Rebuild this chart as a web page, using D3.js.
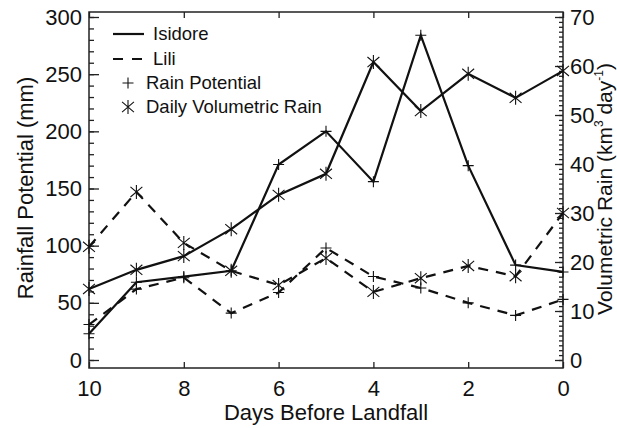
<!DOCTYPE html>
<html>
<head>
<meta charset="utf-8">
<script src="https://cdn.jsdelivr.net/npm/d3@7"></script>
<style>
  body { margin: 0; background: #fff; }
  text { font-family: "Liberation Sans", Arial, sans-serif; fill: #111; }
</style>
</head>
<body>
<svg id="chart"></svg>
<script>
// days before landfall
const days = [10, 9, 8, 7, 6, 5, 4, 3, 2, 1, 0];
// rain potential (mm), left axis
const isidoreRainPotential = [23, 68, 73, 78, 171, 200, 156, 284, 170, 83, 77];
const liliRainPotential = [31, 62, 72, 41, 59, 98, 73, 63, 50, 39, 53];
// daily volumetric rain (km3 / day), right axis
const isidoreVolumetric = [14.5, 18.4, 21.2, 26.7, 33.7, 38, 60.8, 50.8, 58.4, 53.5, 59];
const liliVolumetric = [23.1, 34.3, 23.9, 18.2, 15.3, 20.8, 13.9, 16.7, 19.2, 17.1, 30];

const xTicks = [10, 8, 6, 4, 2, 0];
const leftTicks = [0, 50, 100, 150, 200, 250, 300];
const rightTicks = [0, 10, 20, 30, 40, 50, 60, 70];
const legendLabels = ["Isidore", "Lili", "Rain Potential", "Daily Volumetric Rain"];

var width = 617, height = 428;
var frame = { left: 89, right: 563, top: 12, bottom: 368 };

var svg = d3.select("#chart").attr("width", width).attr("height", height);

var x = d3.scaleLinear().domain([10, 0]).range([frame.left, frame.right]);
var yL = d3.scaleLinear().domain([0, 300]).range([360, 17]);
var yR = d3.scaleLinear().domain([0, 70]).range([360, 17]);

const fs = 22;

// frame
svg.append("rect")
  .attr("x", frame.left).attr("y", frame.top)
  .attr("width", frame.right - frame.left)
  .attr("height", frame.bottom - frame.top)
  .attr("fill", "none").attr("stroke", "#222").attr("stroke-width", 1.5);

function styleAxis(g) {
  g.select(".domain").remove();
  g.selectAll("line").attr("stroke", "#222").attr("stroke-width", 1.3);
  g.selectAll("text").attr("font-size", fs).attr("fill", "#111")
    .style("font-family", "'Liberation Sans', Arial, sans-serif");
}

// left axis
svg.append("g").attr("transform", `translate(${frame.left},0)`)
  .call(d3.axisLeft(yL).tickValues(d3.range(0, 301, 10)).tickSize(-5).tickFormat(""))
  .call(styleAxis);
svg.append("g").attr("transform", `translate(${frame.left},0)`)
  .call(d3.axisLeft(yL).tickValues(leftTicks).tickSize(-10).tickPadding(7))
  .call(styleAxis);

// right axis
svg.append("g").attr("transform", `translate(${frame.right},0)`)
  .call(d3.axisRight(yR).tickValues(d3.range(0, 71, 1)).tickSize(-4).tickFormat(""))
  .call(styleAxis);
svg.append("g").attr("transform", `translate(${frame.right},0)`)
  .call(d3.axisRight(yR).tickValues(rightTicks).tickSize(-8).tickPadding(7))
  .call(styleAxis);

// bottom / top axis
svg.append("g").attr("transform", `translate(0,${frame.bottom})`)
  .call(d3.axisBottom(x).tickValues(xTicks).tickSize(-6).tickPadding(12))
  .call(styleAxis);
svg.append("g").attr("transform", `translate(0,${frame.top})`)
  .call(d3.axisTop(x).tickValues(xTicks).tickSize(-6).tickFormat(""))
  .call(styleAxis);

// axis titles
svg.append("text")
  .attr("x", (frame.left + frame.right) / 2).attr("y", 420)
  .attr("text-anchor", "middle").attr("font-size", fs)
  .text("Days Before Landfall");

svg.append("text")
  .attr("transform", "translate(33,188) rotate(-90)")
  .attr("text-anchor", "middle").attr("font-size", fs)
  .text("Rainfall Potential (mm)");

var rt = svg.append("text")
  .attr("transform", "translate(612,189) rotate(-90)")
  .attr("text-anchor", "middle").attr("font-size", 21);
rt.append("tspan").text("Volumetric Rain (km");
rt.append("tspan").attr("font-size", 12).attr("dy", -9).text("3");
rt.append("tspan").attr("dy", 9).text(" day");
rt.append("tspan").attr("font-size", 12).attr("dy", -9).text("-1");
rt.append("tspan").attr("dy", 9).text(")");

// series
var series = [
  { vals: isidoreRainPotential, y: yL, dash: null, marker: "plus" },
  { vals: isidoreVolumetric, y: yR, dash: null, marker: "star" },
  { vals: liliRainPotential, y: yL, dash: "10,8", marker: "plus" },
  { vals: liliVolumetric, y: yR, dash: "10,8", marker: "star" }
];

function drawMarker(g, kind, cx, cy) {
  var p = d3.path();
  if (kind === "plus") {
    var s = 5.5;
    p.moveTo(cx - s, cy); p.lineTo(cx + s, cy);
    p.moveTo(cx, cy - s); p.lineTo(cx, cy + s);
  } else {
    var r = 7;
    p.moveTo(cx, cy - r); p.lineTo(cx, cy + r);
    var a = r * 0.85;
    p.moveTo(cx - a, cy - a * 0.85); p.lineTo(cx + a, cy + a * 0.85);
    p.moveTo(cx - a, cy + a * 0.85); p.lineTo(cx + a, cy - a * 0.85);
  }
  g.append("path").attr("d", p.toString())
    .attr("stroke", "#111").attr("stroke-width", 1.1).attr("fill", "none");
}

series.forEach(function (s) {
  var line = d3.line()
    .x(function (d, i) { return x(days[i]); })
    .y(function (d) { return s.y(d); });
  svg.append("path")
    .datum(s.vals)
    .attr("d", line)
    .attr("fill", "none")
    .attr("stroke", "#111")
    .attr("stroke-width", 2.2)
    .attr("stroke-dasharray", s.dash);
  var mg = svg.append("g");
  s.vals.forEach(function (d, i) {
    drawMarker(mg, s.marker, x(days[i]), s.y(d));
  });
});

// legend
var lg = svg.append("g");
lg.append("line").attr("x1", 113).attr("x2", 144).attr("y1", 34).attr("y2", 34)
  .attr("stroke", "#111").attr("stroke-width", 2.2);
lg.append("line").attr("x1", 113).attr("x2", 144).attr("y1", 59).attr("y2", 59)
  .attr("stroke", "#111").attr("stroke-width", 2.2).attr("stroke-dasharray", "10,9");
drawMarker(lg, "plus", 128, 83);
drawMarker(lg, "star", 128, 107);
var legY = [34, 59, 83, 107], legX = [153, 153, 146, 146];
legendLabels.forEach(function (t, i) {
  lg.append("text").attr("x", legX[i]).attr("y", legY[i]).attr("dy", "0.35em")
    .attr("font-size", 18.5).text(t);
});
</script>
</body>
</html>
